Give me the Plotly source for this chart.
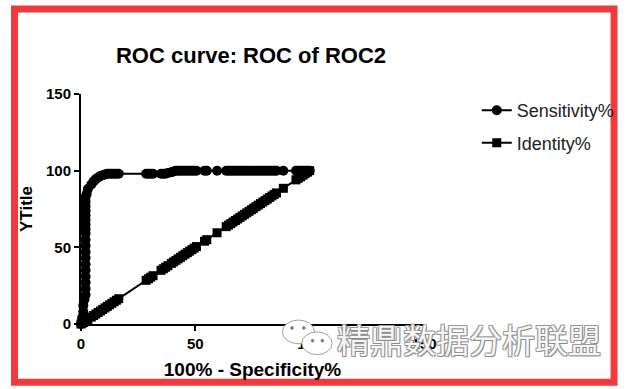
import plotly.graph_objects as go

# ---- data ----
fpr_pct = [0, 0.5, 1, 1, 1.5, 2, 2, 2, 2, 2, 2, 2, 2, 2, 2, 2,
           2, 2, 2, 2, 2, 2, 2, 2, 2.5, 3, 4.5,
           5.5, 6.5, 7.5, 8.5, 9.5, 10.5, 11.5, 12.5, 13.5, 14.5, 15.5, 16.5,
           28.5, 29.5, 30.5, 31.5, 35, 36, 37, 38,
           39.5, 40.5, 41.5, 42.5, 43.5, 44.5, 45.5, 46.5, 47.5, 48.5, 49.5, 50.5,
           54, 55, 59.5,
           63.5, 64.5, 65.5, 66.5, 67.5, 68.5, 69.5, 70.5, 71.5, 72.5, 73.5, 74.5,
           75.5, 76.5, 77.5, 78.5, 79.5, 80.5, 81.5, 82.5, 83.5, 84.5, 85.5,
           88.5, 94, 95, 96, 97, 98, 99, 100]

sensitivity_pct = [0, 4, 8, 12, 16, 19, 23, 27, 31, 35, 39, 43, 47, 51, 55, 59,
                   62, 65, 68, 71, 74, 77, 80, 83, 85, 88, 91,
                   93, 94.5, 95.5, 96.5, 97, 97.5, 98, 98, 98, 98, 98, 98,
                   98, 98, 98, 98, 98, 98, 98, 98.5,
                   99, 99.5, 100, 100, 100, 100, 100, 100, 100, 100, 100, 100,
                   100, 100, 100,
                   100, 100, 100, 100, 100, 100, 100, 100, 100, 100, 100, 100,
                   100, 100, 100, 100, 100, 100, 100, 100, 100, 100, 100,
                   100, 100, 100, 100, 100, 100, 100, 100]

identity_pct = [0, 0.5, 1, 1, 1.5, 2, 2, 2, 2, 2, 2, 2, 2, 2, 2, 2,
                2, 2, 2, 2, 2, 2, 2, 2, 2.5, 3, 4.5,
                5.5, 6.5, 7.5, 8.5, 9.5, 10.5, 11.5, 12.5, 13.5, 14.5, 15.5, 16.5,
                28.5, 29.5, 30.5, 31.5, 35, 36, 37, 38,
                39.5, 40.5, 41.5, 42.5, 43.5, 44.5, 45.5, 46.5, 47.5, 48.5, 49.5, 50.5,
                54, 55, 59.5,
                63.5, 64.5, 65.5, 66.5, 67.5, 68.5, 69.5, 70.5, 71.5, 72.5, 73.5, 74.5,
                75.5, 76.5, 77.5, 78.5, 79.5, 80.5, 81.5, 82.5, 83.5, 84.5, 85.5,
                88.5, 94, 95, 96, 97, 98, 99, 100]

x_ticks = [0, 50, 100, 150]
y_ticks = [0, 50, 100, 150]
series_names = ["Sensitivity%", "Identity%"]

# ---- layout geometry (pixels) ----
W, H = 632, 389
L, R, T, B = 81, 200, 94, 62
PW, PH = W - L - R, H - T - B


def px_x(p):
    return (p - L) / PW


def px_y(p):
    return (H - B - p) / PH


FONT = "Arial, 'Liberation Sans', Helvetica, sans-serif"

fig = go.Figure()
fig.add_trace(go.Scatter(
    x=fpr_pct, y=sensitivity_pct, name=series_names[0], mode="lines+markers",
    line=dict(color="black", width=2),
    marker=dict(symbol="circle", size=10, color="black"),
    cliponaxis=False, legendgroup="a"))
fig.add_trace(go.Scatter(
    x=fpr_pct, y=identity_pct, name=series_names[1], mode="lines+markers",
    line=dict(color="black", width=2),
    marker=dict(symbol="square", size=9, color="black"),
    cliponaxis=False, legendgroup="b"))

axis_common = dict(
    showgrid=False, zeroline=False, showline=True, linecolor="black", linewidth=2,
    ticks="outside", ticklen=5, tickwidth=2, tickcolor="black",
    tickfont=dict(family=FONT, size=15, color="black", weight="bold"),
    fixedrange=True,
)

fig.update_xaxes(range=[0, 150], tickvals=x_ticks, ticktext=[str(v) for v in x_ticks],
                 title=dict(text="100% - Specificity%", standoff=12,
                            font=dict(family=FONT, size=19, color="black", weight="bold")),
                 **axis_common)
fig.update_yaxes(range=[0, 150], tickvals=y_ticks, ticktext=[str(v) for v in y_ticks],
                 title=dict(text="YTitle", standoff=9,
                            font=dict(family=FONT, size=17, color="black", weight="bold")),
                 **axis_common)

shapes = [
    # red frame around the picture
    dict(type="rect", xref="paper", yref="paper",
         x0=px_x(13), x1=px_x(626.5), y0=px_y(386), y1=px_y(8),
         line=dict(color="#ef3b3b", width=7), fillcolor="rgba(0,0,0,0)", layer="above"),
    # watermark icon (two speech bubbles)
    dict(type="circle", xref="paper", yref="paper",
         x0=px_x(287), x1=px_x(320), y0=px_y(347), y1=px_y(323),
         line=dict(color="#a0a0a0", width=1), fillcolor="white", layer="above"),
    dict(type="circle", xref="paper", yref="paper",
         x0=px_x(307), x1=px_x(338), y0=px_y(358), y1=px_y(335),
         line=dict(color="#a0a0a0", width=1), fillcolor="white", layer="above"),
]
for cx, cy in [(297, 331), (309, 331), (318, 344), (328, 344)]:
    shapes.append(dict(type="circle", xref="paper", yref="paper",
                       x0=px_x(cx - 1.5), x1=px_x(cx + 1.5), y0=px_y(cy + 1.5), y1=px_y(cy - 1.5),
                       line=dict(color="#777", width=0.5), fillcolor="#777", layer="above"))

fig.update_layout(
    width=W, height=H,
    margin=dict(l=L, r=R, t=T, b=B, pad=0),
    paper_bgcolor="white", plot_bgcolor="white",
    title=dict(text="ROC curve: ROC of ROC2", x=px_x(255), xref="paper", xanchor="center",
               y=1 - 55 / H, yref="container", yanchor="middle",
               font=dict(family=FONT, size=22, color="black", weight="bold")),
    legend=dict(x=px_x(486), y=px_y(92), xanchor="left", yanchor="top",
                font=dict(family=FONT, size=18, color="#222"),
                bgcolor="rgba(0,0,0,0)", borderwidth=0, itemwidth=30,
                traceorder="grouped", tracegroupgap=6),
    shapes=shapes,
    annotations=[dict(text="精鼎数据分析联盟", xref="paper", yref="paper",
                      x=px_x(478), y=px_y(342), xanchor="center", yanchor="middle",
                      showarrow=False,
                      font=dict(family="'Noto Sans CJK SC'", size=33, color="#f6f6f6",
                                shadow="1px 1px 0 #8a8a8a, -1px -1px 0 #9a9a9a, 1px -1px 0 #9a9a9a, -1px 1px 0 #9a9a9a"))],
    showlegend=True,
)

fig.write_html("out.html", config={"displayModeBar": False},
               post_script="document.body.style.margin='0';document.body.style.padding='0';document.body.style.overflow='hidden';")
